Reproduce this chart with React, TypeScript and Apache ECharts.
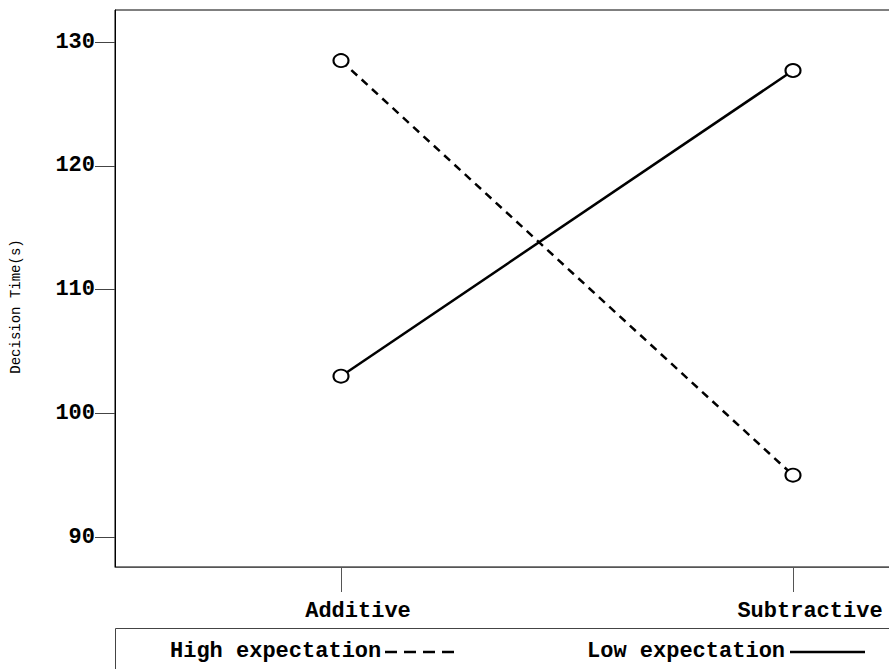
import React, { useEffect, useRef } from "react";
import * as echarts from "echarts";

// Conditions on the x axis
const categories = ["Additive", "Subtractive"];
// Mean decision time (s) per condition
const highExpectation = [128.5, 95.0];
const lowExpectation = [103.0, 127.7];
// Y axis tick values
const yTicks = [90, 100, 110, 120, 130];
const seriesNames = ["High expectation", "Low expectation"];

const FONT = "'Liberation Mono', 'DejaVu Sans Mono', monospace";

export default function App() {
  const ref = useRef<HTMLDivElement>(null);

  useEffect(() => {
    if (!ref.current) return;
    const chart = echarts.init(ref.current, undefined, { renderer: "svg" });

    const lineSeries = (name: string, data: number[], dashed: boolean) => ({
      name,
      type: "line",
      data,
      symbol: "emptyCircle",
      symbolSize: [15, 13],
      showSymbol: true,
      lineStyle: {
        color: "#000",
        width: 2.5,
        type: dashed ? [8, 6] : "solid",
      },
      itemStyle: { color: "#000", borderColor: "#000", borderWidth: 2.5 },
      z: 3,
    });

    chart.setOption({
      animation: false,
      backgroundColor: "#fff",
      // the plotting area runs past the right edge of the canvas
      grid: {
        left: 115,
        top: 10,
        width: 904,
        bottom: 102,
        outerBoundsMode: "none",
        containLabel: false,
        show: true,
        borderColor: "#000",
        borderWidth: 1,
        backgroundColor: "transparent",
      },
      xAxis: {
        type: "category",
        data: categories,
        boundaryGap: true,
        axisLine: { show: true, lineStyle: { color: "#555", width: 1 } },
        axisTick: {
          show: true,
          alignWithLabel: true,
          inside: false,
          length: 25,
          lineStyle: { color: "#555", width: 1 },
        },
        axisLabel: {
          margin: 33,
          color: "#000",
          fontFamily: FONT,
          fontSize: 22,
          fontWeight: "bold",
          padding: [0, 0, 0, 34],
        },
        splitLine: { show: false },
      },
      yAxis: {
        type: "value",
        min: 87.58,
        max: 132.59,
        name: "Decision Time(s)",
        nameLocation: "middle",
        nameGap: 92,
        nameRotate: 90,
        nameTextStyle: {
          color: "#000",
          fontFamily: FONT,
          fontSize: 14,
          fontWeight: "normal",
          padding: [0, 36, 0, 0],
        },
        axisLine: { show: true, lineStyle: { color: "#000", width: 1 } },
        axisTick: {
          show: true,
          inside: false,
          length: 20,
          customValues: yTicks,
          lineStyle: { color: "#444", width: 1 },
        },
        axisLabel: {
          margin: 20,
          color: "#000",
          fontFamily: FONT,
          fontSize: 22,
          fontWeight: "bold",
          customValues: yTicks,
        },
        splitLine: { show: false },
      },
      series: [
        lineSeries(seriesNames[0], highExpectation, true),
        lineSeries(seriesNames[1], lowExpectation, false),
      ],
      graphic: [
        {
          type: "rect",
          shape: { x: 115.5, y: 628.5, width: 800, height: 60 },
          style: { fill: "transparent", stroke: "#444", lineWidth: 1 },
          silent: true,
        },
        {
          type: "text",
          x: 170,
          y: 651,
          style: {
            text: seriesNames[0],
            fontFamily: FONT,
            fontSize: 22,
            fontWeight: "bold",
            fill: "#000",
            verticalAlign: "middle",
          },
        },
        {
          type: "line",
          shape: { x1: 385, y1: 652, x2: 460, y2: 652 },
          style: { stroke: "#000", lineWidth: 2.5, lineDash: [12, 7] },
        },
        {
          type: "text",
          x: 587,
          y: 651,
          style: {
            text: seriesNames[1],
            fontFamily: FONT,
            fontSize: 22,
            fontWeight: "bold",
            fill: "#000",
            verticalAlign: "middle",
          },
        },
        {
          type: "line",
          shape: { x1: 790, y1: 652, x2: 865, y2: 652 },
          style: { stroke: "#000", lineWidth: 2.5 },
        },
      ],
    });

    return () => chart.dispose();
  }, []);

  return (
    <div
      ref={ref}
      style={{ position: "fixed", left: 0, top: 0, width: 889, height: 669 }}
    />
  );
}
